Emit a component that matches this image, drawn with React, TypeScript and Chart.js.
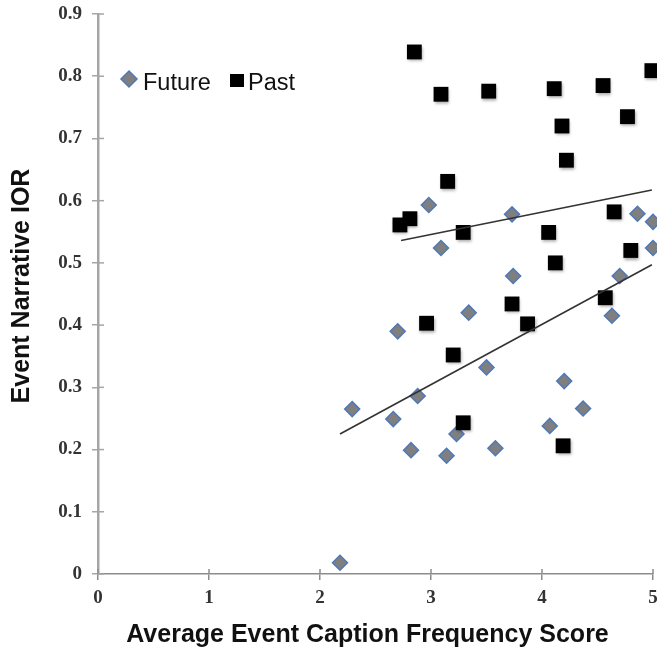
import React, { useEffect, useRef } from "react";
import { Chart, registerables } from "chart.js";

Chart.register(...registerables);

// ---- data ----
const futureX = [2.98, 3.09, 3.73, 4.86, 5.0, 5.0, 3.74, 4.7, 3.34, 4.63, 2.7, 3.5, 4.2, 2.29, 2.88, 4.37, 2.66, 4.07, 3.23, 2.82, 3.14, 3.58, 2.18];
const futureY = [0.593, 0.524, 0.578, 0.579, 0.566, 0.524, 0.479, 0.479, 0.42, 0.415, 0.39, 0.332, 0.31, 0.265, 0.286, 0.266, 0.249, 0.238, 0.225, 0.199, 0.19, 0.202, 0.018];
const pastX = [2.85, 3.09, 3.52, 4.11, 4.55, 4.99, 4.77, 4.18, 4.22, 3.15, 2.81, 2.72, 3.29, 4.06, 4.65, 4.8, 4.12, 4.57, 3.73, 2.96, 3.87, 3.2, 3.29, 4.19];
const pastY = [0.839, 0.771, 0.776, 0.78, 0.785, 0.809, 0.735, 0.72, 0.665, 0.631, 0.571, 0.561, 0.549, 0.549, 0.582, 0.52, 0.5, 0.444, 0.434, 0.403, 0.402, 0.352, 0.243, 0.206];
const futureTrendX = [2.18, 4.99];
const futureTrendY = [0.225, 0.497];
const pastTrendX = [2.73, 4.99];
const pastTrendY = [0.536, 0.617];
const xTicks = [0, 1, 2, 3, 4, 5];
const yTicks = [0, 0.1, 0.2, 0.3, 0.4, 0.5, 0.6, 0.7, 0.8, 0.9];
const seriesNames = ["Future", "Past"];
const xTitle = "Average Event Caption Frequency Score";
const yTitle = "Event Narrative IOR";

const toPts = (xs: number[], ys: number[]) => xs.map((x, i) => ({ x, y: ys[i] }));

const DIAMOND_FILL = "#7f7f7f";
const DIAMOND_BORDER = "#4f79b8";
const TITLE_FONT = "bold 25px 'Liberation Sans', Arial, sans-serif";

const innerTicks = {
  id: "innerTicks",
  afterDraw(chart: any) {
    const { ctx, chartArea, scales } = chart;
    ctx.save();
    ctx.lineWidth = 1.5;
    const xs = scales.x;
    const ys = scales.y;
    ctx.strokeStyle = "#8c8c8c";
    xTicks.forEach((t) => {
      const px = xs.getPixelForValue(t);
      ctx.beginPath();
      ctx.moveTo(px, chartArea.bottom);
      ctx.lineTo(px, chartArea.bottom - 5);
      ctx.stroke();
    });
    ctx.strokeStyle = "#a6a6a6";
    yTicks.forEach((t) => {
      const py = ys.getPixelForValue(t);
      ctx.beginPath();
      ctx.moveTo(chartArea.left, py);
      ctx.lineTo(chartArea.left + 6, py);
      ctx.stroke();
    });
    ctx.restore();
  },
};

const axisTitles = {
  id: "axisTitles",
  afterDraw(chart: any) {
    const { ctx, chartArea } = chart;
    const midX = (chartArea.left + chartArea.right) / 2 - 8;
    const midY = (chartArea.top + chartArea.bottom) / 2 - 8;
    ctx.save();
    ctx.font = TITLE_FONT;
    ctx.fillStyle = "#111";
    ctx.textAlign = "center";
    ctx.textBaseline = "middle";
    ctx.fillText(xTitle, midX, chartArea.bottom + 61);
    ctx.translate(chartArea.left - 76, midY);
    ctx.rotate(-Math.PI / 2);
    ctx.fillText(yTitle, 0, 0);
    ctx.restore();
  },
};

const legendPlugin = {
  id: "insideLegend",
  afterDraw(chart: any) {
    const { ctx, chartArea } = chart;
    const x0 = chartArea.left;
    const y0 = chartArea.top;
    ctx.save();
    const dx = x0 + 31, dy = y0 + 65;
    ctx.beginPath();
    ctx.moveTo(dx, dy - 8);
    ctx.lineTo(dx + 8, dy);
    ctx.lineTo(dx, dy + 8);
    ctx.lineTo(dx - 8, dy);
    ctx.closePath();
    ctx.fillStyle = DIAMOND_FILL;
    ctx.fill();
    ctx.strokeStyle = DIAMOND_BORDER;
    ctx.lineWidth = 1.5;
    ctx.stroke();
    ctx.font = "23.5px 'Liberation Sans', Arial, sans-serif";
    ctx.fillStyle = "#111";
    ctx.textBaseline = "alphabetic";
    ctx.fillText(seriesNames[0], x0 + 45, y0 + 76);
    ctx.fillStyle = "#000";
    ctx.fillRect(x0 + 132, y0 + 60, 14, 13);
    ctx.fillStyle = "#111";
    ctx.fillText(seriesNames[1], x0 + 150, y0 + 76);
    ctx.restore();
  },
};

const shadowPlugin = {
  id: "squareShadow",
  beforeDatasetDraw(chart: any, args: any) {
    if (args.meta && args.meta.label === "Past") {
      const ctx = chart.ctx;
      ctx.save();
      ctx.shadowColor = "rgba(0,0,0,0.35)";
      ctx.shadowBlur = 3;
      ctx.shadowOffsetX = 1;
      ctx.shadowOffsetY = 2;
    }
  },
  afterDatasetDraw(chart: any, args: any) {
    if (args.meta && args.meta.label === "Past") {
      chart.ctx.restore();
    }
  },
};

const tickFont = { family: "'Liberation Serif', 'Times New Roman', serif", size: 19, weight: "bold" as const };

export default function App() {
  const ref = useRef<HTMLCanvasElement | null>(null);
  useEffect(() => {
    document.body.style.margin = "0";
    const canvas = ref.current;
    if (!canvas) return;
    const chart = new Chart(canvas, {
      type: "scatter",
      data: {
        datasets: [
          {
            type: "line",
            label: "futureTrend",
            data: toPts(futureTrendX, futureTrendY),
            borderColor: "#333",
            borderWidth: 1.6,
            pointRadius: 0,
            showLine: true,
            fill: false,
            order: 0,
          } as any,
          {
            type: "line",
            label: "pastTrend",
            data: toPts(pastTrendX, pastTrendY),
            borderColor: "#333",
            borderWidth: 1.6,
            pointRadius: 0,
            showLine: true,
            fill: false,
            order: 0,
          } as any,
          {
            label: "Past",
            data: toPts(pastX, pastY),
            pointStyle: "rect",
            pointRadius: 10.5,
            backgroundColor: "#000",
            borderColor: "#000",
            borderWidth: 0,
            clip: false,
            order: 1,
          } as any,
          {
            label: "Future",
            data: toPts(futureX, futureY),
            pointStyle: "rectRot",
            pointRadius: 7.5,
            backgroundColor: DIAMOND_FILL,
            borderColor: DIAMOND_BORDER,
            borderWidth: 1.5,
            clip: false,
            order: 2,
          } as any,
        ],
      },
      options: {
        responsive: false,
        animation: false,
        layout: { autoPadding: false, padding: { top: 14, right: 4, left: 0, bottom: 0 } },
        plugins: { legend: { display: false }, tooltip: { enabled: false } },
        scales: {
          x: {
            type: "linear",
            min: 0,
            max: 5,
            afterBuildTicks: (scale: any) => {
              scale.ticks = xTicks.map((v) => ({ value: v }));
            },
            afterFit: (scale: any) => {
              scale.height = 77;
              scale.paddingLeft = 0;
              scale.paddingRight = 0;
            },
            ticks: {
              padding: 7,
              color: "#333",
              font: tickFont,
              callback: (v: any) => String(v),
            },
            grid: { display: true, drawOnChartArea: false, drawTicks: true, tickLength: 6, color: "#8c8c8c", lineWidth: 1.5 },
            border: { display: true, color: "#8c8c8c", width: 1.5 },
            title: { display: false },
          },
          y: {
            type: "linear",
            min: 0,
            max: 0.9,
            afterBuildTicks: (scale: any) => {
              scale.ticks = yTicks.map((v) => ({ value: v }));
            },
            afterFit: (scale: any) => {
              scale.width = 98;
              scale.paddingTop = 0;
              scale.paddingBottom = 0;
            },
            ticks: {
              padding: 10,
              color: "#333",
              font: tickFont,
              callback: (v: any) => (v === 0 ? "0" : Number(v).toFixed(1)),
            },
            grid: { display: true, drawOnChartArea: false, drawTicks: true, tickLength: 6, color: "#a6a6a6", lineWidth: 1.5 },
            border: { display: true, color: "#a6a6a6", width: 2.5 },
            title: { display: false },
          },
        },
      },
      plugins: [innerTicks, legendPlugin, shadowPlugin, axisTitles],
    });
    return () => chart.destroy();
  }, []);
  return (
    <div style={{ position: "absolute", left: 0, top: 0, width: 657, height: 651 }}>
      <canvas ref={ref} width={657} height={651} style={{ width: 657, height: 651, display: "block" }} />
    </div>
  );
}
